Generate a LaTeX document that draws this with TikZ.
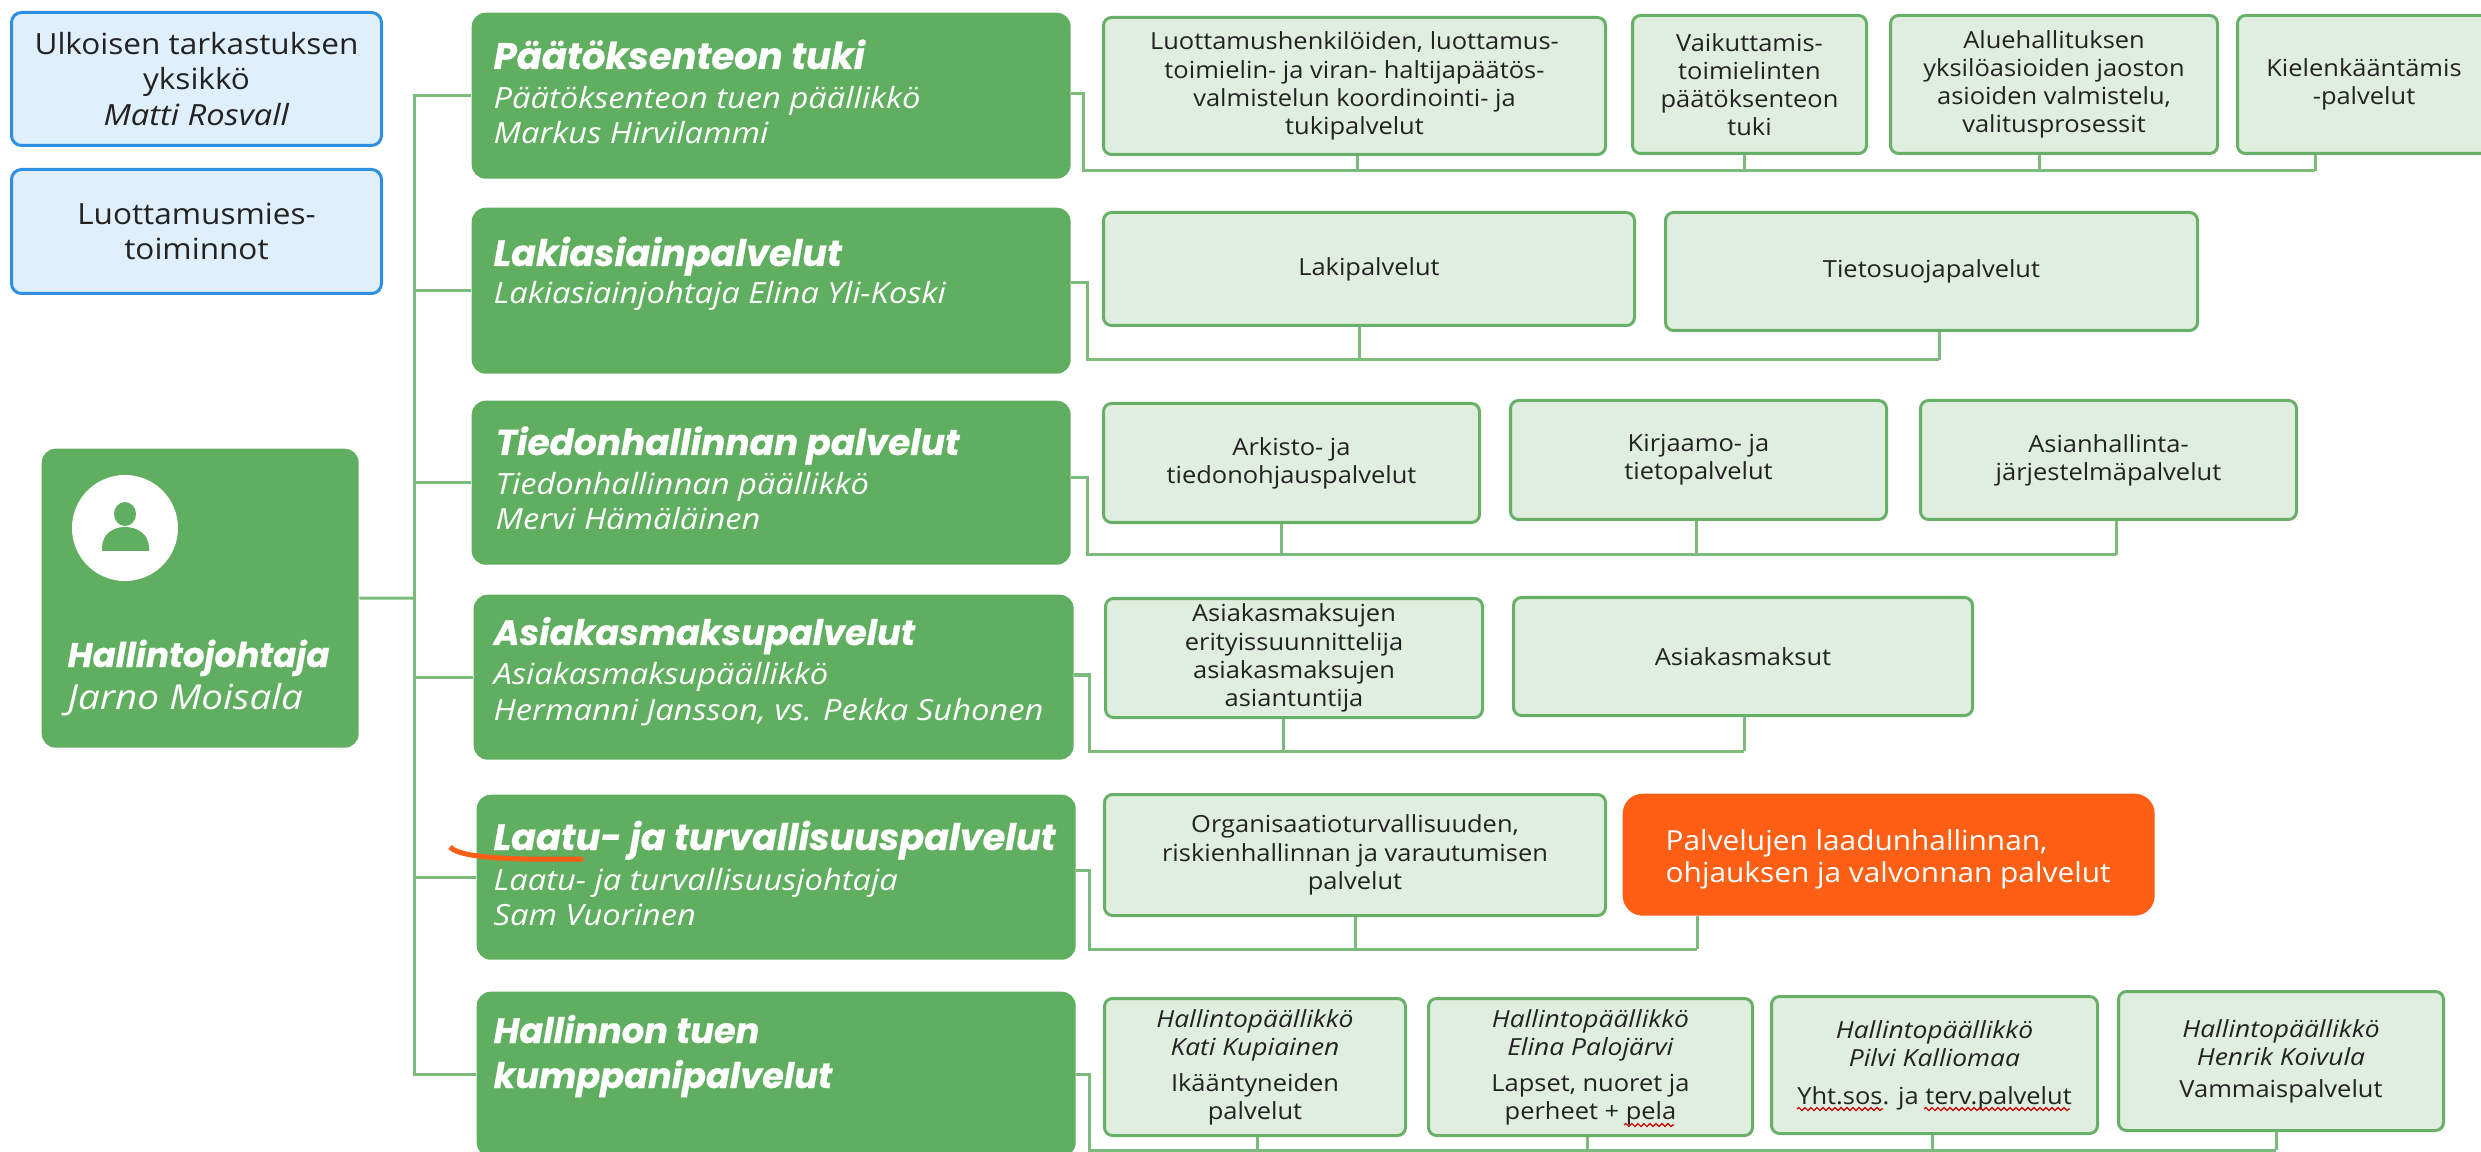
\documentclass[tikz,border=0pt]{standalone}
\usepackage{fontspec}
\setmainfont[FakeStretch=1.08,ItalicFeatures={FakeStretch=1.12}]{Open Sans}
\newfontfamily\titlefont[BoldItalicFeatures={FakeBold=0.6}]{Poppins}
\usetikzlibrary{decorations.pathmorphing}

\definecolor{mainfill}{HTML}{60AE60}
\definecolor{leaffill}{HTML}{DFEEDF}
\definecolor{leafline}{HTML}{68B068}
\definecolor{linkgreen}{HTML}{7DBB7D}
\definecolor{bluefill}{HTML}{DFEFFB}
\definecolor{blueline}{HTML}{2F8FE0}
\definecolor{orangefill}{HTML}{FF5F15}
\definecolor{inktext}{HTML}{222222}

\tikzset{
    boxsize/.style 2 args={anchor=north west,minimum width=#1*0.01cm,minimum height=#2*0.01cm,inner sep=0pt},
    mainbox/.style={fill=mainfill,rounded corners=0.14cm},
    leafbox/.style={draw=leafline,line width=0.03cm,fill=leaffill,rounded corners=0.08cm,align=center,text=inktext,font=\fontsize{6.7}{8}\selectfont},
    bluebox/.style={draw=blueline,line width=0.03cm,fill=bluefill,rounded corners=0.1cm,align=center,text=inktext,font=\fontsize{8.3}{10}\selectfont},
    maintitle/.style={anchor=base west,inner sep=0pt,text=white,font=\titlefont\bfseries\itshape\fontsize{10}{12}\selectfont},
    mainsub/.style={anchor=base west,inner sep=0pt,text=white,font=\itshape\fontsize{8.3}{10}\selectfont},
    linkline/.style={draw=linkgreen,line width=0.03cm},
    wavyline/.style={draw=red!80!black,line width=0.012cm,decorate,decoration={snake,amplitude=0.015cm,segment length=0.06cm}},
}

\begin{document}
\begin{tikzpicture}[x=0.01cm,y=-0.01cm]

    \clip[use as bounding box] (0,0) rectangle (2481,1152);

    % left column
    \node[bluebox,boxsize={370}{133}] (audit) at (10,11) {Ulkoisen tarkastuksen\\yksikkö\\\textit{Matti Rosvall}};
    \node[bluebox,boxsize={370}{124}] (union) at (10,168) {Luottamusmies-\\toiminnot};

    \node[mainbox,boxsize={317}{299}] (root) at (41,448) {};
    \node[circle,fill=white,minimum size=1.06cm,inner sep=0pt] (avatar) at (125,528) {};
    \fill[mainfill] (125,514) ellipse [x radius=11,y radius=12];
    \fill[mainfill] (102,551) -- (102,548) .. controls (102,534) and (113,527) .. (125,527) .. controls (137,527) and (149,534) .. (149,548) -- (149,551) -- cycle;
    \node[maintitle,font=\titlefont\bfseries\itshape\fontsize{9.7}{12}\selectfont] (roottitle) at (67,667) {Hallintojohtaja};
    \node[mainsub,font=\itshape\fontsize{9.8}{11}\selectfont] (rootname) at (67,709) {Jarno Moisala};

    % main boxes
    \node[mainbox,boxsize={599}{166}] (main1) at (471,12) {};
    \node[mainbox,boxsize={599}{166}] (main2) at (471,207) {};
    \node[mainbox,boxsize={599}{164}] (main3) at (471,400) {};
    \node[mainbox,boxsize={600}{165}] (main4) at (473,594) {};
    \node[mainbox,boxsize={599}{165}] (main5) at (476,794) {};
    \node[mainbox,boxsize={599}{165}] (main6) at (476,991) {};

    \node[maintitle,font=\titlefont\bfseries\itshape\fontsize{10.5}{12}\selectfont] (title1) at (493,69) {Päätöksenteon tuki};
    \node[mainsub] (sub1a) at (493,109) {Päätöksenteon tuen päällikkö};
    \node[mainsub] (sub1b) at (493,144) {Markus Hirvilammi};
    \node[maintitle,font=\titlefont\bfseries\itshape\fontsize{10.4}{12}\selectfont] (title2) at (493,266) {Lakiasiainpalvelut};
    \node[mainsub] (sub2a) at (493,304) {Lakiasiainjohtaja Elina Yli-Koski};
    \node[maintitle,font=\titlefont\bfseries\itshape\fontsize{10.2}{12}\selectfont] (title3) at (495,455) {Tiedonhallinnan palvelut};
    \node[mainsub] (sub3a) at (495,495) {Tiedonhallinnan päällikkö};
    \node[mainsub] (sub3b) at (495,530) {Mervi Hämäläinen};
    \node[maintitle] (title4) at (493,645) {Asiakasmaksupalvelut};
    \node[mainsub] (sub4a) at (493,685) {Asiakasmaksupäällikkö};
    \node[mainsub] (sub4b) at (493,720) {Hermanni Jansson, vs. Pekka Suhonen};
    \node[maintitle,font=\titlefont\bfseries\itshape\fontsize{10.4}{12}\selectfont] (title5) at (493,850) {Laatu- ja turvallisuuspalvelut};
    \node[mainsub] (sub5a) at (493,890) {Laatu- ja turvallisuusjohtaja};
    \node[mainsub] (sub5b) at (493,925) {Sam Vuorinen};
    \node[maintitle] (title6a) at (493,1043) {Hallinnon tuen};
    \node[maintitle] (title6b) at (493,1088) {kumppanipalvelut};

    % leaf boxes
    \node[leafbox,boxsize={502}{137}] (leaf1a) at (1102,16) {Luottamushenkilöiden, luottamus-\\toimielin- ja viran- haltijapäätös-\\valmistelun koordinointi- ja\\tukipalvelut};
    \node[leafbox,boxsize={234}{138}] (leaf1b) at (1631,14) {Vaikuttamis-\\toimielinten\\päätöksenteon\\tuki};
    \node[leafbox,boxsize={327}{138}] (leaf1c) at (1889,14) {Aluehallituksen\\yksilöasioiden jaoston\\asioiden valmistelu,\\valitusprosessit};
    \node[leafbox,boxsize={253}{138}] (leaf1d) at (2236,14) {Kielenkääntämis\\-palvelut};

    \node[leafbox,boxsize={531}{113}] (leaf2a) at (1102,211) {Lakipalvelut};
    \node[leafbox,boxsize={532}{118}] (leaf2b) at (1664,211) {Tietosuojapalvelut};

    \node[leafbox,boxsize={376}{119}] (leaf3a) at (1102,402) {Arkisto- ja\\tiedonohjauspalvelut};
    \node[leafbox,boxsize={376}{119}] (leaf3b) at (1509,399) {Kirjaamo- ja\\tietopalvelut};
    \node[leafbox,boxsize={376}{119}] (leaf3c) at (1919,399) {Asianhallinta-\\järjestelmäpalvelut};

    \node[leafbox,boxsize={377}{119}] (leaf4a) at (1104,597) {Asiakasmaksujen\\erityissuunnittelija\\asiakasmaksujen\\asiantuntija};
    \node[leafbox,boxsize={459}{118}] (leaf4b) at (1512,596) {Asiakasmaksut};

    \node[leafbox,boxsize={501}{121}] (leaf5a) at (1103,793) {Organisaatioturvallisuuden,\\riskienhallinnan ja varautumisen\\palvelut};
    \node[boxsize={532}{122},fill=orangefill,rounded corners=0.2cm] (leaf5b) at (1622,793) {};
    \node[anchor=west,inner sep=0pt,align=left,text=white,font=\fontsize{7.85}{9.1}\selectfont] (leaf5text) at (1665,859) {Palvelujen laadunhallinnan,\\ohjauksen ja valvonnan palvelut};

    \node[leafbox,boxsize={301}{137}] (leaf6a) at (1103,997) {\textit{Hallintopäällikkö}\\\textit{Kati Kupiainen}\\[2.2pt]Ikääntyneiden\\palvelut};
    \node[leafbox,boxsize={324}{137}] (leaf6b) at (1427,997) {\textit{Hallintopäällikkö}\\\textit{Elina Palojärvi}\\[2.2pt]Lapset, nuoret ja\\perheet + pela};
    \node[leafbox,boxsize={326}{137}] (leaf6c) at (1770,995) {\textit{Hallintopäällikkö}\\\textit{Pilvi Kalliomaa}\\[2.8pt]Yht.sos. ja terv.palvelut};
    \node[leafbox,boxsize={325}{139}] (leaf6d) at (2117,990) {\textit{Hallintopäällikkö}\\\textit{Henrik Koivula}\\[1pt]Vammaispalvelut};

    % links from the root
    \coordinate (trunk) at (414,598);
    \draw[linkline] (root.east) -- (trunk);
    \draw[linkline] (main1.west) -| (trunk);
    \draw[linkline] (main6.west) -| (trunk);
    \foreach \rowname in {2,3,4,5} {
        \draw[linkline] (main\rowname.west) -- (main\rowname.west -| trunk);
    }

    % brackets on the right
    \coordinate (bend1) at (1083,94);    \coordinate (bus1) at (2315,171);
    \coordinate (bend2) at (1087,283);   \coordinate (bus2) at (1939,360);
    \coordinate (bend3) at (1087,478);   \coordinate (bus3) at (2116,555);
    \coordinate (bend4) at (1089,675);   \coordinate (bus4) at (1744,751);
    \coordinate (bend5) at (1089,870);   \coordinate (bus5) at (1697,949);
    \coordinate (bend6) at (1089,1074);  \coordinate (bus6) at (2276,1150);
    \foreach \rowname in {1,2,3,4,5,6} {
        \draw[linkline] (main\rowname.east |- bend\rowname) -- (bend\rowname) |- (bus\rowname);
    }

    \foreach \rowname/\leafname/\dropx in {1/a/1357,1/b/1744,1/c/2039,1/d/2315,2/a/1359,2/b/1939,3/a/1281,3/b/1696,3/c/2116,4/a/1283,4/b/1744,5/a/1355,5/b/1697,6/a/1257,6/b/1587,6/c/1932,6/d/2276} {
        \coordinate (drop\rowname\leafname) at (\dropx,0);
        \draw[linkline] (leaf\rowname\leafname.south -| drop\rowname\leafname) -- (drop\rowname\leafname |- bus\rowname);
    }

    % marks on top
    \draw[orangefill,line width=0.05cm] (450,847) .. controls (460,858) and (510,860) .. (583,859);
    \draw[wavyline] (1797,1109) -- (1883,1109);
    \draw[wavyline] (1924,1109) -- (2070,1109);
    \draw[wavyline] (1624,1125) -- (1674,1125);

\end{tikzpicture}
\end{document}
